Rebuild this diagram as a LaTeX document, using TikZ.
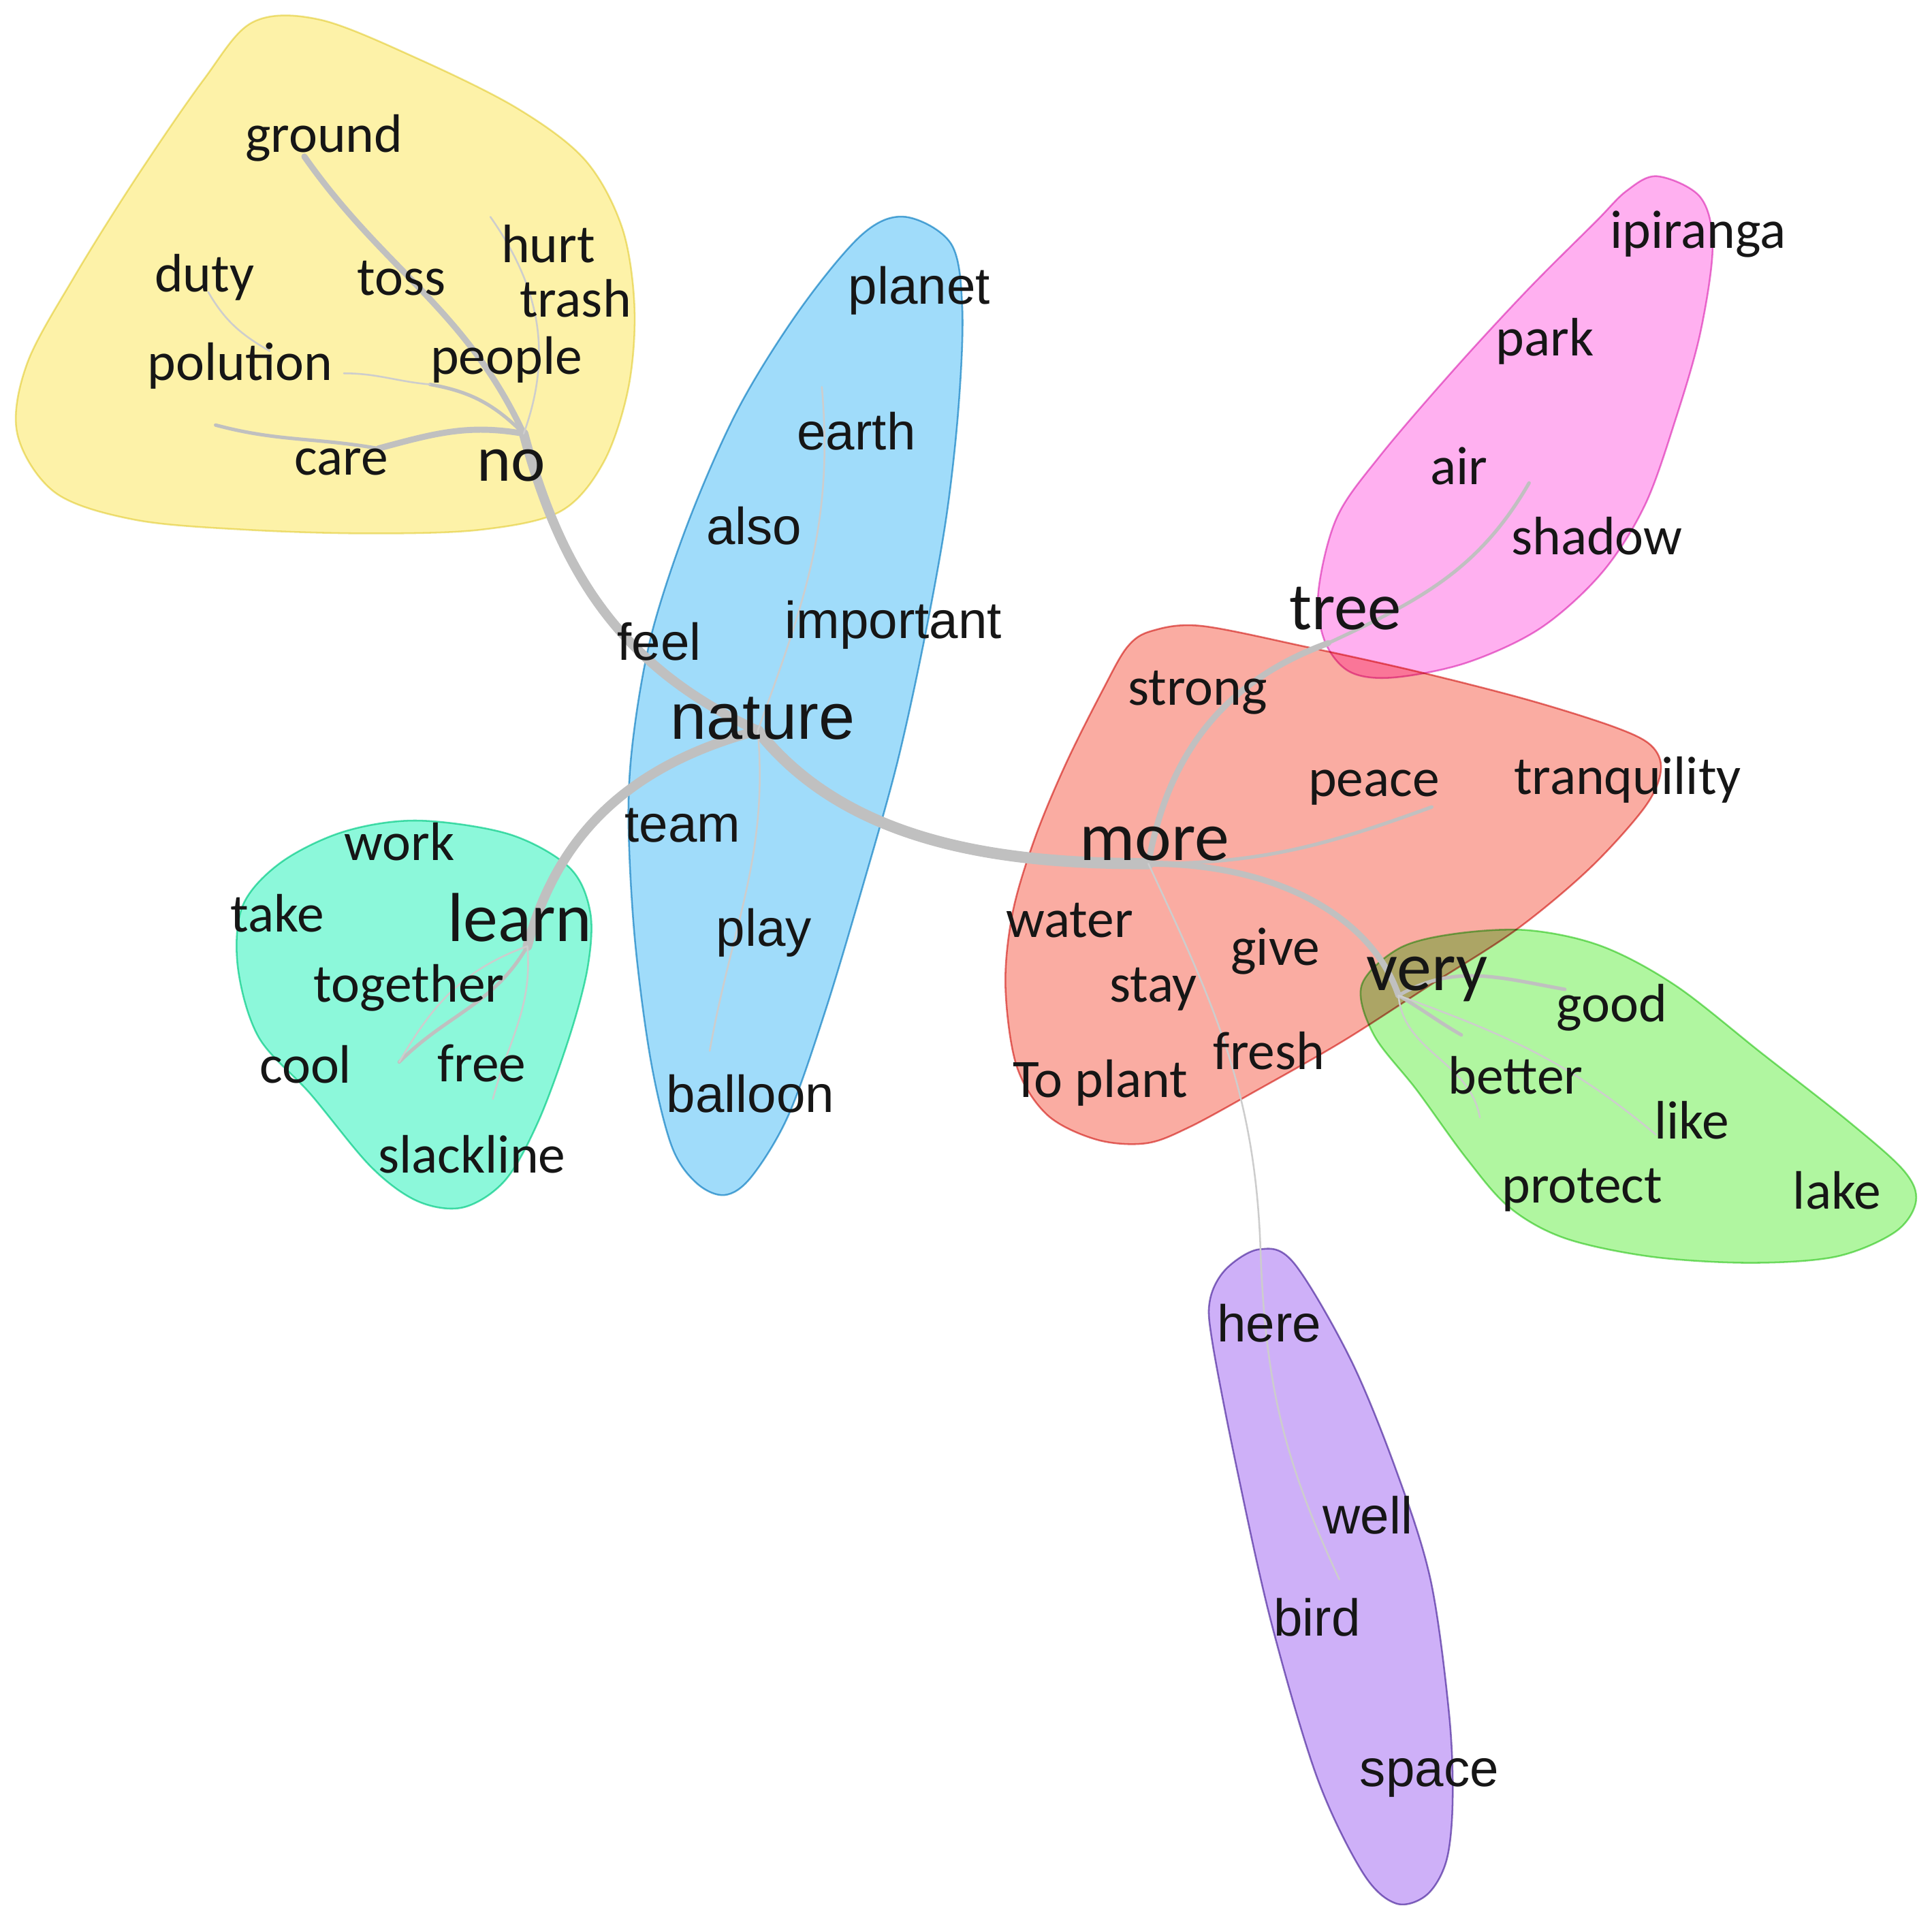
\documentclass[tikz,border=0pt]{standalone}
\usepackage{fontspec}
\usepackage{tikz}
\newfontfamily\wordfont{Carlito}
\newfontfamily\widefont{Liberation Sans}
\definecolor{simink}{RGB}{22,22,22}
\definecolor{simgrey}{RGB}{192,192,192}
\definecolor{simhair}{RGB}{205,205,205}
\definecolor{simyellow}{RGB}{253,242,168}
\definecolor{simyellowedge}{RGB}{238,228,140}
\definecolor{simblue}{RGB}{160,220,250}
\definecolor{simblueedge}{RGB}{95,175,215}
\definecolor{simteal}{RGB}{140,248,218}
\definecolor{simtealedge}{RGB}{85,222,180}
\definecolor{simpink}{RGB}{255,176,240}
\definecolor{simpinkedge}{RGB}{232,125,210}
\definecolor{simred}{RGB}{250,172,162}
\definecolor{simrededge}{RGB}{228,115,112}
\definecolor{simgreen}{RGB}{176,246,160}
\definecolor{simgreenedge}{RGB}{132,222,120}
\definecolor{simpurple}{RGB}{206,176,248}
\definecolor{simpurpleedge}{RGB}{140,115,190}
\tikzset{
  word/.style={font=\wordfont\fontsize{12.5}{15}\selectfont, text=simink, inner sep=0pt},
  bigword/.style={font=\wordfont\fontsize{16}{19}\selectfont, text=simink, inner sep=0pt},
  wideword/.style={font=\widefont\fontsize{12}{14}\selectfont, text=simink, inner sep=0pt},
  blob/.style={line width=0.4pt},
  trunk/.style={draw=simgrey, line width=2.6pt, line cap=round},
  bough/.style={draw=simgrey, line width=2.2pt, line cap=round},
  limb/.style={draw=simgrey, line width=1.4pt, line cap=round},
  twig/.style={draw=simgrey, line width=0.8pt, line cap=round},
  hair/.style={draw=simhair, line width=0.4pt, line cap=round}
}

\begin{document}
\begin{tikzpicture}[x=0.01cm, y=0.01cm]
  \fill[white] (0,0) rectangle (1568,-1562);
  \useasboundingbox (0,0) rectangle (1568,-1562);

  % clusters
  \begin{scope}[blend mode=multiply]
    \draw[blob, draw=simyellowedge, fill=simyellow] plot[smooth cycle, tension=0.55] coordinates {
      (205,-18) (260,-16) (340,-48) (420,-88) (475,-130) (505,-185) (515,-250) (510,-315)
      (490,-375) (455,-415) (390,-430) (300,-433) (200,-430) (110,-422) (45,-400) (14,-352)
      (22,-295) (60,-225) (110,-145) (165,-65)};
    \draw[blob, draw=simblueedge, fill=simblue] plot[smooth cycle, tension=0.55] coordinates {
      (735,-176) (772,-198) (781,-250) (778,-330) (768,-420) (750,-520) (728,-620) (700,-720)
      (670,-820) (640,-905) (610,-955) (588,-970) (565,-960) (545,-930) (528,-860) (515,-760)
      (510,-660) (515,-590) (530,-510) (560,-420) (600,-330) (650,-250) (700,-190)};
    \draw[blob, draw=simtealedge, fill=simteal] plot[smooth cycle, tension=0.55] coordinates {
      (279,-675) (339,-666) (413,-677) (462,-704) (479,-740) (477,-785) (462,-842) (437,-910)
      (410,-958) (376,-980) (339,-975) (301,-947) (252,-888) (210,-842) (193,-785) (197,-735)
      (228,-700)};
    \draw[blob, draw=simpinkedge, fill=simpink] plot[smooth cycle, tension=0.55] coordinates {
      (1345,-143) (1380,-160) (1390,-200) (1380,-270) (1360,-340) (1335,-410) (1300,-465)
      (1250,-510) (1190,-538) (1130,-550) (1095,-545) (1075,-520) (1070,-480) (1085,-420)
      (1120,-370) (1180,-300) (1240,-235) (1295,-180) (1320,-155)};
    \draw[blob, draw=simrededge, fill=simred] plot[smooth cycle, tension=0.55] coordinates {
      (935,-512) (975,-508) (1060,-525) (1150,-545) (1240,-568) (1310,-590) (1340,-605)
      (1348,-625) (1335,-655) (1290,-705) (1230,-755) (1160,-800) (1090,-845) (1020,-885)
      (965,-915) (930,-928) (890,-925) (850,-905) (825,-865) (816,-800) (822,-740) (840,-680)
      (865,-620) (895,-560) (915,-525)};
    \draw[blob, draw=simgreenedge, fill=simgreen] plot[smooth cycle, tension=0.55] coordinates {
      (1105,-800) (1135,-770) (1180,-758) (1240,-755) (1300,-768) (1360,-800) (1430,-855)
      (1500,-910) (1545,-950) (1555,-975) (1538,-1000) (1490,-1020) (1420,-1025) (1340,-1020)
      (1270,-1005) (1225,-980) (1190,-940) (1150,-885) (1115,-840)};
    \draw[blob, draw=simpurpleedge, fill=simpurple] plot[smooth cycle, tension=0.55] coordinates {
      (1022,-1014) (1050,-1025) (1096,-1103) (1133,-1193) (1161,-1282) (1176,-1390)
      (1179,-1461) (1174,-1510) (1158,-1538) (1133,-1545) (1106,-1520) (1069,-1443)
      (1032,-1318) (1004,-1193) (984,-1090) (982,-1055) (995,-1030)};
  \end{scope}

  % branch points
  \coordinate (nohub) at (425,-352);
  \coordinate (naturehub) at (615,-593);
  \coordinate (learnhub) at (428,-768);
  \coordinate (morehub) at (932,-701);
  \coordinate (veryhub) at (1135,-808);
  \coordinate (treehub) at (1078,-522);
  \coordinate (herehub) at (1023,-1014);
  \coordinate (groundend) at (247,-127);
  \coordinate (carejoint) at (307,-364);
  \coordinate (careend) at (175,-345);
  \coordinate (peoplejoint) at (349,-312);
  \coordinate (polend) at (279,-303);
  \coordinate (dutyend) at (169,-237);
  \coordinate (dutyjoint) at (219,-285);
  \coordinate (hurtend) at (398,-176);
  \coordinate (bluetop) at (667,-314);
  \coordinate (blueend) at (576,-853);
  \coordinate (coolend) at (324,-862);
  \coordinate (slackend) at (400,-892);
  \coordinate (shadowend) at (1241,-392);
  \coordinate (peaceend) at (1162,-655);
  \coordinate (purpleend) at (1087,-1282);
  \coordinate (goodend) at (1270,-803);
  \coordinate (betterend) at (1186,-840);
  \coordinate (betterlong) at (1201,-907);
  \coordinate (likeend) at (1344,-921);

  % tree
  \draw[bough] (nohub) to[out=-75, in=155] (naturehub);
  \draw[trunk] (naturehub) .. controls +(75,-95) and +(-110,0) .. (morehub);
  \draw[bough] (naturehub) to[out=195, in=75] (learnhub);
  \draw[limb] (morehub) .. controls +(110,0) and +(-20,60) .. (veryhub);
  \draw[limb] (morehub) to[out=80, in=200] (treehub);
  \draw[twig] (treehub) to[out=25, in=240] (shadowend);
  \draw[limb] (nohub) to[out=115, in=-55] (groundend);
  \draw[limb] (nohub) to[out=170, in=15] (carejoint);
  \draw[twig] (carejoint) to[out=170, in=-15] (careend);
  \draw[twig] (nohub) to[out=135, in=-10] (peoplejoint);
  \draw[hair] (peoplejoint) to[out=175, in=0] (polend);
  \draw[hair] (dutyend) to[out=-60, in=150] (dutyjoint);
  \draw[hair] (hurtend) to[out=-55, in=70] (nohub);
  \draw[hair] (bluetop) to[out=-85, in=70] (naturehub);
  \draw[hair] (naturehub) to[out=-85, in=80] (blueend);
  \draw[twig] (learnhub) to[out=-120, in=45] (coolend);
  \draw[hair] (learnhub) to[out=200, in=60] (coolend);
  \draw[hair] (learnhub) to[out=-85, in=75] (slackend);
  \draw[twig] (morehub) to[out=0, in=200] (peaceend);
  \draw[hair] (morehub) to[out=-65, in=92] (herehub);
  \draw[hair] (herehub) to[out=-88, in=115] (purpleend);
  \draw[twig] (veryhub) to[out=30, in=170] (goodend);
  \draw[twig] (veryhub) to[out=-30, in=150] (betterend);
  \draw[hair] (veryhub) to[out=-85, in=100] (betterlong);
  \draw[hair] (veryhub) to[out=-20, in=140] (likeend);

  % words
  \node[word] (ground) at (263,-112) {ground};
  \node[word] (duty) at (166,-225) {duty};
  \node[word] (toss) at (326,-226) {toss};
  \node[word] (hurt) at (445,-198) {hurt};
  \node[word] (trash) at (467,-242) {trash};
  \node[word] (polution) at (195,-297) {polution};
  \node[word] (people) at (411,-292) {people};
  \node[word] (care) at (277,-375) {care};
  \node[bigword, font=\wordfont\fontsize{15}{18}\selectfont] (no) at (415,-378) {no};

  \node[wideword] (planet) at (746,-236) {planet};
  \node[wideword] (earth) at (695,-350) {earth};
  \node[wideword] (also) at (612,-427) {also};
  \node[wideword] (important) at (725,-507) {important};
  \node[wideword] (feel) at (535,-521) {feel};
  \node[wideword, font=\widefont\fontsize{15}{18}\selectfont] (nature) at (619,-583) {nature};
  \node[wideword] (team) at (554,-670) {team};
  \node[wideword] (play) at (620,-757) {play};
  \node[wideword] (balloon) at (609,-888) {balloon};

  \node[word] (work) at (324,-683) {work};
  \node[word] (take) at (225,-741) {take};
  \node[bigword] (learn) at (422,-745) {learn};
  \node[word] (together) at (332,-802) {together};
  \node[word] (cool) at (248,-864) {cool};
  \node[word] (free) at (391,-863) {free};
  \node[word] (slackline) at (383,-937) {slackline};

  \node[word] (ipiranga) at (1378,-190) {ipiranga};
  \node[word] (park) at (1254,-277) {park};
  \node[word] (air) at (1184,-378) {air};
  \node[word] (shadow) at (1296,-435) {shadow};
  \node[bigword, font=\wordfont\fontsize{15.5}{18}\selectfont] (tree) at (1092,-494) {tree};

  \node[word] (strong) at (972,-562) {strong};
  \node[word] (peace) at (1115,-639) {peace};
  \node[word] (tranquility) at (1321,-633) {tranquility};
  \node[bigword] (more) at (937,-685) {more};
  \node[word] (water) at (868,-747) {water};
  \node[word] (give) at (1035,-772) {give};
  \node[word] (stay) at (936,-803) {stay};
  \node[word] (fresh) at (1030,-853) {fresh};
  \node[word] (toplant) at (893,-879) {To plant};

  \node[bigword] (very) at (1158,-795) {very};
  \node[word] (good) at (1308,-818) {good};
  \node[word] (better) at (1230,-873) {better};
  \node[word] (like) at (1373,-909) {like};
  \node[word] (protect) at (1284,-966) {protect};
  \node[word] (lake) at (1491,-966) {lake};

  \node[wideword] (here) at (1030,-1074) {here};
  \node[wideword] (well) at (1110,-1230) {well};
  \node[wideword] (bird) at (1069,-1313) {bird};
  \node[wideword] (space) at (1160,-1443) {space};
\end{tikzpicture}
\end{document}
